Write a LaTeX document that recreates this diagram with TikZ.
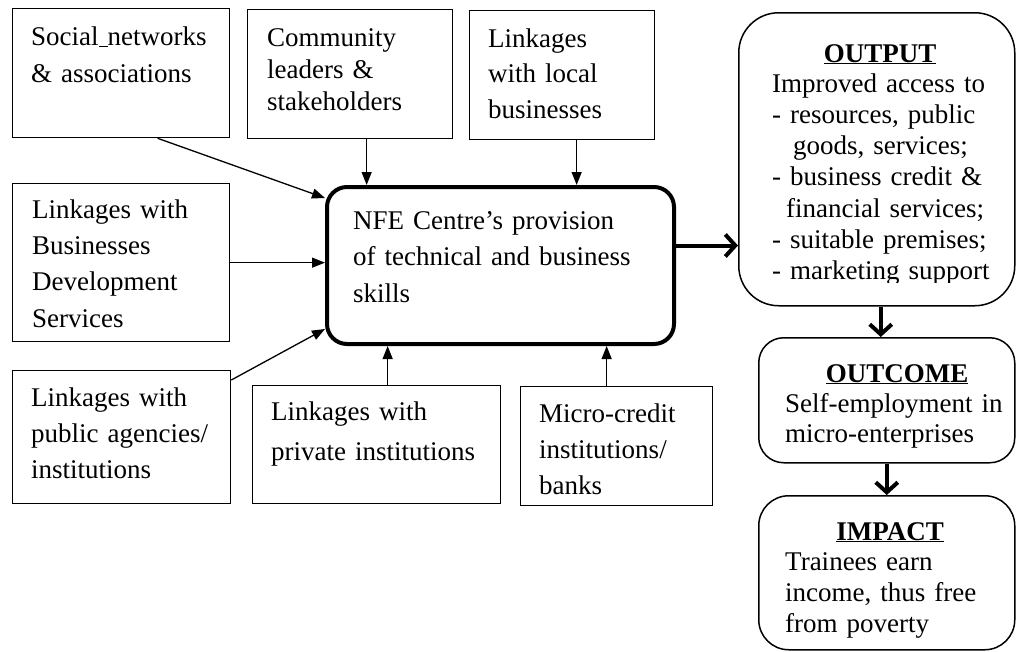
\documentclass[tikz,border=0pt]{standalone}
\usepackage{fontspec}
\setmainfont{Liberation Serif}
\usetikzlibrary{arrows.meta,calc}
\newcommand{\fsz}[1]{\fontsize{27}{#1}\selectfont}
\begin{document}
\begin{tikzpicture}[x=1pt,y=-1pt,
  box/.style={draw, line width=1.3pt, inner sep=0pt, anchor=north west},
  txt/.style={anchor=base west, inner sep=0pt, align=left, text width=420pt},
  hd/.style={anchor=base, inner sep=0pt, font=\fsz{30}\bfseries},
  thinarr/.style={line width=1.3pt, -{Triangle[length=13pt,width=10pt]}},
  thickarr/.style={line width=4pt, -{Straight Barb[length=10pt,width=22pt]}}]
\useasboundingbox (0,0) rectangle (1016,651);
\fill[white] (0,0) rectangle (1016,651);

% input boxes
\node[box, minimum width=217pt, minimum height=129pt] (soc) at (12,8) {};
\node[box, minimum width=205pt, minimum height=129pt] (com) at (247,9) {};
\node[box, minimum width=185pt, minimum height=129pt] (loc) at (469,10) {};
\node[box, minimum width=217pt, minimum height=158pt] (bds) at (12,183) {};
\node[box, minimum width=218pt, minimum height=133pt] (pub) at (12,370) {};
\node[box, minimum width=248pt, minimum height=118pt] (pri) at (252,385) {};
\node[box, minimum width=192pt, minimum height=119pt] (mic) at (520,386) {};

% centre
\node[box, line width=4pt, rounded corners=20pt, minimum width=347pt, minimum height=157pt] (ctr) at (325,185) {};

% results
\node[box, line width=1.5pt, rounded corners=40pt, minimum width=276pt, minimum height=293pt] (out) at (738,12) {};
\node[box, line width=1.5pt, rounded corners=25pt, minimum width=256pt, minimum height=125pt] (otc) at (758,337) {};
\node[box, line width=1.5pt, rounded corners=30pt, minimum width=256pt, minimum height=154pt] (imp) at (758,495) {};

% texts
\node[txt, font=\fsz{37}] (socT) at (31,45) {Social\underline{\ }networks\\ \& associations};
\node[txt, font=\fsz{32}] (comT) at (267,46) {Community\\ leaders \&\\ stakeholders};
\node[txt, font=\fsz{35.5}] (locT) at (488,47) {Linkages\\ with local\\ businesses};
\node[txt, font=\fsz{36.4}] (bdsT) at (32,218) {Linkages with\\ Businesses\\ Development\\ Services};
\node[txt, font=\fsz{36}] (pubT) at (31,406) {Linkages with\\ public agencies/\\ institutions};
\node[txt, font=\fsz{40}] (priT) at (271,420) {Linkages with\\ private institutions};
\node[txt, font=\fsz{36}] (micT) at (539,422) {Micro-credit\\ institutions/\\ banks};
\node[txt, font=\fsz{36.5}] (ctrT) at (353,229) {NFE Centre’s provision\\ of technical and business\\ skills};

\node[hd] (outH) at (880,62) {\underline{OUTPUT}};
\begin{scope}
  \clip (738,12) rectangle (1016,282.5);
  \node[txt, font=\fsz{31.3}] (outT) at (772,92) {Improved access to\\
  - resources, public\\
  \hspace*{21pt}goods, services;\\
  - business credit \&\\
  \hspace*{14pt}financial services;\\
  - suitable premises;\\
  - marketing support};
\end{scope}
\node[hd] (otcH) at (897,382) {\underline{OUTCOME}};
\node[txt, font=\fsz{30}] (otcT) at (785,412) {Self-employment in\\ micro-enterprises};
\node[hd] (impH) at (890,540) {\underline{IMPACT}};
\node[txt, font=\fsz{31}] (impT) at (785,570) {Trainees earn\\ income, thus free\\ from poverty};

% connectors
\draw[thinarr] ([xshift=36.5pt]soc.south) -- ([yshift=-13pt]ctr.north west);
\draw[thinarr] ([xshift=16.5pt]com.south) -- ([xshift=16.5pt]com.south |- ctr.north);
\draw[thinarr] ([xshift=14.5pt]loc.south) -- ([xshift=14.5pt]loc.south |- ctr.north);
\draw[thinarr] (bds.east) -- (bds.east -| ctr.west);
\draw[thinarr] ([yshift=-10pt]pub.north east) -- ([yshift=17pt]ctr.south west);
\draw[thinarr] ([xshift=11pt]pri.north) -- ([xshift=11pt]pri.north |- ctr.south);
\draw[thinarr] ([xshift=-10pt]mic.north) -- ([xshift=-10pt]mic.north |- ctr.south);

\draw[thickarr] ([yshift=20pt]ctr.east) -- ([yshift=20pt]ctr.east -| out.west);
\draw[thickarr] ([xshift=4pt]out.south) -- ([xshift=4pt]out.south |- otc.north);
\draw[thickarr] (otc.south) -- (imp.north);
\end{tikzpicture}
\end{document}
